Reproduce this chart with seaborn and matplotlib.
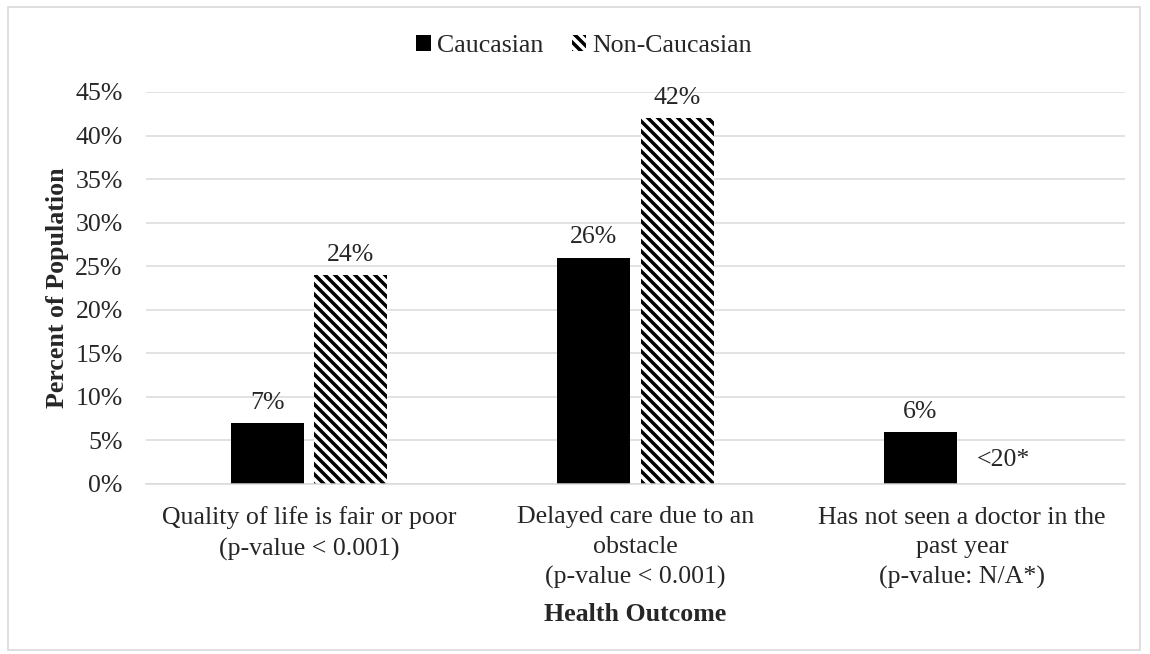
import matplotlib
matplotlib.use('Agg')
import matplotlib.pyplot as plt
from matplotlib.patches import Patch, Rectangle
import pandas as pd
import numpy as np
import seaborn as sns

# Data
outcomes = ['Quality of life is fair or poor\n(p-value < 0.001)',
            'Delayed care due to an\nobstacle\n(p-value < 0.001)',
            'Has not seen a doctor in the\npast year\n(p-value: N/A*)']
caucasian = [7, 26, 6]
non_caucasian = [24, 42, np.nan]
groups = ['Caucasian', 'Non-Caucasian']
suppressed_label = '<20*'
yticks = [0, 5, 10, 15, 20, 25, 30, 35, 40, 45]

df = pd.DataFrame({
    'outcome': outcomes * 2,
    'group': [groups[0]] * 3 + [groups[1]] * 3,
    'value': caucasian + non_caucasian,
})

sns.set_style('white')
plt.rcParams['font.family'] = ['Liberation Serif', 'DejaVu Serif']
plt.rcParams['hatch.linewidth'] = 2.1
FS = 15.5
HATCH = '\\\\\\\\'

# dpi 120 so the hatch spacing matches the reference
DPI = 120
fig = plt.figure(figsize=(1150 / DPI, 654 / DPI), dpi=DPI)
ax = fig.add_axes([146 / 1150, 1 - 484 / 654, 979 / 1150, 392 / 654])

sns.barplot(data=df, x='outcome', y='value', hue='group', hue_order=groups,
            order=outcomes, palette=['black', 'white'], width=0.512, gap=0.126,
            linewidth=0, legend=False, ax=ax)

# hatch the Non-Caucasian bars
for p in ax.containers[1]:
    p.set_hatch(HATCH)
    p.set_edgecolor('black')
    p.set_facecolor('white')
    p.set_linewidth(0)

ax.set_ylim(0, 45)
ax.set_yticks(yticks)
ax.set_yticklabels([f'{t}%' for t in yticks])
ax.set_xlim(-0.5, 2.5)
ax.yaxis.grid(True, color='#d9d9d9', linewidth=0.9)
ax.set_axisbelow(True)
for s in ['left', 'right', 'top']:
    ax.spines[s].set_visible(False)
ax.spines['bottom'].set_color('#d9d9d9')
ax.spines['bottom'].set_linewidth(0.9)
ax.tick_params(axis='both', length=0, labelsize=FS)
ax.tick_params(axis='y', pad=14)
ax.tick_params(axis='x', pad=13.5)
for lab in ax.get_xticklabels():
    lab.set_linespacing(1.45)

ax.set_ylabel('Percent of Population', fontsize=FS, fontweight='bold', labelpad=4)
ax.set_xlabel('Health Outcome', fontsize=FS, fontweight='bold', labelpad=8)

# value labels
for cont, vals in zip(ax.containers, [caucasian, non_caucasian]):
    for p, v in zip(cont, vals):
        if np.isnan(v):
            continue
        ax.text(p.get_x() + p.get_width() / 2, v + 2.3, f'{v:.0f}%',
                ha='center', va='center', fontsize=FS)

# suppressed value note
c0 = ax.containers[0][0]
c1 = ax.containers[1][0]
shift = c1.get_x() - c0.get_x()
p3 = ax.containers[0][2]
ax.text(p3.get_x() + p3.get_width() / 2 + shift, 2.75, suppressed_label,
        ha='center', va='center', fontsize=FS)

handles = [Patch(facecolor='black', edgecolor='black', linewidth=0),
           Patch(facecolor='white', edgecolor='black', hatch=HATCH, linewidth=0)]
fig.legend(handles, groups, loc='center', bbox_to_anchor=(0.508, 1 - 46 / 654), ncol=2,
           frameon=False, fontsize=FS, handlelength=0.55, handleheight=0.55,
           handletextpad=0.25, columnspacing=1.1, borderpad=0)

fig.patches.append(Rectangle((8 / 1150, 4 / 654), 1132 / 1150, 643 / 654,
                             transform=fig.transFigure, fill=False,
                             edgecolor='#d9d9d9', linewidth=1.0))

fig.savefig('out.png', dpi=DPI, facecolor='white')
